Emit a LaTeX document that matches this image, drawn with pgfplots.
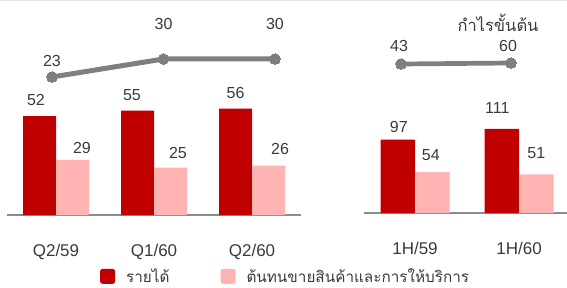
\documentclass[border=0pt]{standalone}
\usepackage{pgfplots}
\pgfplotsset{compat=1.18}
\usepackage{fontspec}
\setmainfont{Liberation Sans}
\newfontfamily\thaifont[Script=Thai]{Loma}
\definecolor{rev}{HTML}{C00000}
\definecolor{cost}{HTML}{FFB3B3}
\definecolor{gp}{HTML}{7F7F7F}
\definecolor{axisgray}{HTML}{8C8C8C}
\definecolor{txt}{HTML}{3A3A3A}
\definecolor{topline}{HTML}{EDE3DA}
\pgfplotsset{
  barstyle/.style={scale only axis, anchor=south west, ymin=0, clip=false,
    axis x line=bottom, axis y line=none,
    x axis line style={-, draw=axisgray, line width=1.5pt},
    major tick length=0pt,
    xticklabel style={yshift=-26pt, text=txt, font=\fontsize{17}{20}\selectfont},
    ybar=0pt, nodes near coords,
    visualization depends on={\thisrow{dx}\as\dx},
    visualization depends on={\thisrow{dy}\as\dy},
    every node near coord/.append style={anchor=center, xshift=\dx pt, yshift=\dy pt, text=txt, font=\fontsize{16}{19}\selectfont},
    /pgf/number format/assume math mode=true},
  linestyle/.style={scale only axis, anchor=south west, hide axis, clip=false,
    nodes near coords,
    visualization depends on={\thisrow{dx}\as\dx},
    visualization depends on={\thisrow{dy}\as\dy},
    every node near coord/.append style={anchor=center, xshift=\dx pt, yshift=\dy pt, text=txt, font=\fontsize{16}{19}\selectfont},
    /pgf/number format/assume math mode=true},
}
\begin{document}
\begin{tikzpicture}[x=1pt,y=1pt, font=\fontsize{16}{19}\selectfont]
\path[use as bounding box] (0,0) rectangle (567,287);
\draw[topline, line width=1.2pt] (0,286.4) -- (567,286.4);

% left bars
\begin{axis}[barstyle, at={(7pt,72pt)}, width=294pt, height=114pt,
  xmin=-0.5, xmax=2.5, ymax=60, bar width=33pt,
  xtick={0,1,2}, xticklabels={Q2/59,Q1/60,Q2/60},
  legend style={at={(0.316,-0.538)}, anchor=west, draw=none, fill=none, inner sep=0pt,
    legend columns=2, text=txt, font=\thaifont\fontsize{15.3}{18}\selectfont,
    nodes={inner ysep=0pt},
    /tikz/every odd column/.append style={column sep=9pt},
    /tikz/every even column/.append style={column sep=49pt}},
  legend image code/.code={\fill[#1, rounded corners=2.5pt] (0pt,-7.5pt) rectangle (15pt,7.5pt);}]
\addplot[fill=rev, draw=none] table {
x y dx dy
0 52 -3.5 16
1 55 -5.5 15.5
2 56 0 15.6
};
\addlegendentry{รายได้}
\addplot[fill=cost, draw=none] table {
x y dx dy
0 29 9.5 12
1 25 7.5 14.5
2 26 11.5 16.6
};
\addlegendentry{ต้นทนขายสินค้าและการให้บริการ}
\end{axis}

% right bars
\begin{axis}[barstyle, at={(364pt,74pt)}, width=203pt, height=114pt,
  xmin=-0.49, xmax=1.46, ymax=150.6, bar width=34.5pt,
  xtick={0,1}, xticklabels={1H/59,1H/60}]
\addplot[fill=rev, draw=none] table {
x y dx dy
0 97 1 13
1 111 -4.5 21
};
\addplot[fill=cost, draw=none] table {
x y dx dy
0 54 -1.5 17
1 51 0 21
};
\end{axis}

% left line
\begin{axis}[linestyle, at={(52pt,202.3pt)}, width=223pt, height=25.71pt,
  xmin=0, xmax=2, ymin=20, ymax=30]
\addplot[gp, line width=5pt, mark=*, mark size=5.3pt, mark options={fill=gp, draw=gp, line width=0pt}] table {
x y dx dy
0 23 0 16
1 30 0 35
2 30 0 35
};
\end{axis}

% right line
\begin{axis}[linestyle, at={(401pt,220.47pt)}, width=110pt, height=10pt,
  xmin=0, xmax=1, ymin=0, ymax=170]
\addplot[gp, line width=4.7pt, mark=*, mark size=5.3pt, mark options={fill=gp, draw=gp, line width=0pt}] table {
x y dx dy
0 43 -2 18
1 60 -3 17
};
\end{axis}

\node[font=\thaifont\fontsize{16.5}{19}\selectfont, text=txt, inner sep=0pt] at (498,264) {กำไรขั้นต้น};
\end{tikzpicture}
\end{document}
